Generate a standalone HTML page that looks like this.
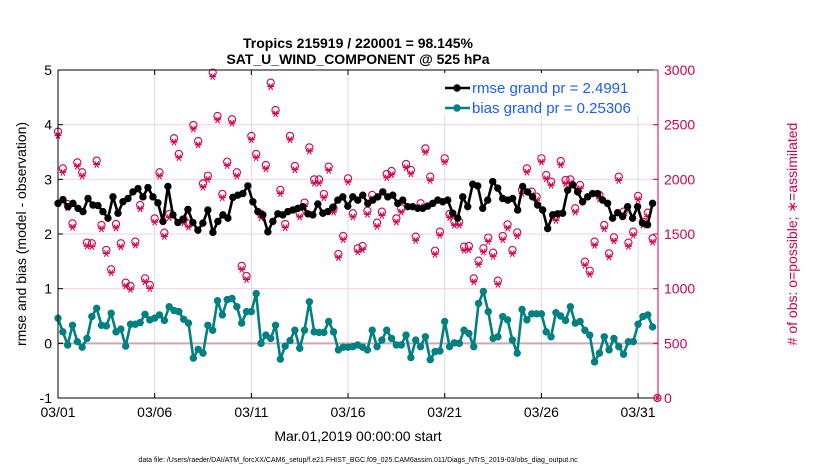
<!DOCTYPE html>
<html><head><meta charset="utf-8"><style>
body{margin:0;background:#fff;}
svg{display:block;font-family:"Liberation Sans",sans-serif;}
</style></head><body>
<svg id="chart" width="830" height="470" xmlns="http://www.w3.org/2000/svg">
<rect x="0" y="0" width="830" height="470" fill="#fff"/>
<text x="358" y="48" text-anchor="middle" font-size="14" font-weight="bold">Tropics 215919 / 220001 = 98.145%</text>
<text x="358" y="64" text-anchor="middle" font-size="14" font-weight="bold">SAT_U_WIND_COMPONENT @ 525 hPa</text>
<g id="grid"></g>
<g id="marks"></g>
<g id="axes"></g>
<text transform="translate(26,234) rotate(-90)" text-anchor="middle" font-size="14">rmse and bias (model - observation)</text>
<text transform="translate(797,234) rotate(-90)" text-anchor="middle" font-size="14" fill="#d6004f"># of obs: o=possible; ∗=assimilated</text>
<text x="358" y="441" text-anchor="middle" font-size="14">Mar.01,2019 00:00:00 start</text>
<text x="358" y="462" text-anchor="middle" font-size="7">data file: /Users/raeder/DAI/ATM_forcXX/CAM6_setup/f.e21.FHIST_BGC.f09_025.CAM6assim.011/Diags_NTrS_2019-03/obs_diag_output.nc</text>
<g id="legend"></g>
</svg>
<script>
const rmseVals=[2.56,2.63,2.50,2.56,2.47,2.41,2.65,2.53,2.52,2.41,2.29,2.68,2.38,2.59,2.65,2.77,2.83,2.68,2.85,2.68,2.57,2.23,2.87,2.35,2.21,2.27,2.45,2.21,2.07,2.20,2.44,2.03,2.23,2.35,2.29,2.67,2.71,2.74,2.88,2.59,2.41,2.35,2.04,
2.23,2.37,2.35,2.41,2.44,2.47,2.50,2.37,2.35,2.55,2.38,2.41,2.49,2.62,2.68,2.51,2.68,2.62,2.71,2.56,2.62,2.68,2.77,2.68,2.71,2.56,2.62,2.50,2.50,2.47,2.47,2.51,2.56,2.62,2.59,2.62,2.38,2.29,2.68,
2.50,2.91,2.88,2.47,2.62,2.96,2.84,2.65,2.62,2.65,2.44,2.87,2.77,2.68,2.53,2.44,2.10,2.35,2.37,2.38,2.80,2.90,2.77,2.59,2.68,2.74,2.74,2.62,2.56,2.29,2.39,2.32,2.50,2.29,2.50,2.20,2.17,2.56];
const biasVals=[0.46,0.21,-0.03,0.33,0.03,-0.07,0.09,0.49,0.64,0.33,0.32,0.55,0.21,0.26,-0.05,0.35,0.35,0.38,0.53,0.43,0.46,0.52,0.42,0.67,0.60,0.58,0.44,0.37,-0.27,-0.11,-0.18,0.33,0.24,0.78,0.52,0.80,0.82,0.67,0.37,0.58,0.58,0.91,0.00,0.15,
0.09,0.33,-0.29,-0.05,0.05,0.24,-0.09,0.24,0.76,0.21,0.20,0.20,0.40,0.21,-0.12,-0.07,-0.07,-0.06,-0.03,-0.07,-0.12,0.24,-0.06,0.06,0.24,0.09,-0.03,-0.03,0.15,-0.26,0.06,-0.06,0.12,-0.30,-0.15,-0.14,0.40,-0.06,0.01,0.00,0.24,
0.18,-0.06,0.73,0.95,0.58,0.09,0.12,0.49,0.43,0.06,-0.18,0.62,0.43,0.54,0.54,0.54,0.21,0.12,0.56,0.50,0.42,0.67,0.37,0.40,0.24,0.15,-0.34,-0.18,0.12,-0.12,0.09,-0.06,-0.20,0.03,0.03,0.35,0.49,0.52,0.30];
const possVals=[2436,2100,1774,1597,2155,2064,1421,1415,2171,1582,1354,1177,1591,1415,1055,1024,1430,1765,1094,1033,1643,2064,1512,1683,2375,2232,1634,1597,2497,2350,1963,2033,2976,2579,1866,2161,2549,2064,1208,1116,2397,2232,1683,2131,
2884,2634,1903,1591,2397,2122,1689,1787,2292,1999,1999,1866,2116,1735,1317,1482,2009,1689,1369,1390,1713,1857,1604,1704,2049,2076,1643,1735,2140,2085,1476,1781,2283,2024,1347,1521,2192,1683,1613,1613,1384,
1390,1094,1256,1369,1467,1329,1073,1482,1588,1354,1515,1903,2100,1887,1841,2192,2039,1979,1659,2167,1994,1999,1735,1948,1247,1164,1430,1857,1582,1323,1470,2024,1704,1421,1521,1848,1613,1695,1460,0];
const assimVals=[2400,2064,1740,1562,2120,2030,1390,1384,2136,1548,1322,1145,1556,1382,1024,994,1398,1730,1062,1002,1608,2030,1478,1650,2340,2198,1600,1563,2460,2315,1928,2000,2940,2544,1832,2126,2514,2030,1176,1084,2362,2198,1650,2096,
2848,2600,1870,1558,2362,2088,1655,1753,2258,1965,1965,1832,2082,1700,1284,1448,1975,1655,1336,1356,1680,1822,1570,1670,2015,2042,1610,1700,2106,2050,1442,1748,2248,1990,1314,1488,2158,1650,1580,1580,1350,
1356,1062,1222,1336,1432,1296,1040,1448,1554,1320,1482,1870,2066,1852,1808,2158,2005,1945,1625,2132,1960,1965,1700,1914,1214,1132,1396,1822,1548,1290,1436,1990,1670,1388,1488,1814,1580,1660,1426,0];
const xTickLabels=["03/01","03/06","03/11","03/16","03/21","03/26","03/31"];
const xTickDays=[0,5,10,15,20,25,30];
const leftTicks=[-1,0,1,2,3,4,5];
const rightTicks=[0,500,1000,1500,2000,2500,3000];

const NS="http://www.w3.org/2000/svg";
const X0=58,X1=658,Y0=70,Y1=398,DMAX=31.03;
const xs=d=>X0+d/DMAX*(X1-X0);
const yl=v=>Y1-(v+1)/6*(Y1-Y0);
const yr=c=>Y1-c/3000*(Y1-Y0);
function mk(tag,attrs,parent){const e=document.createElementNS(NS,tag);for(const k in attrs)e.setAttribute(k,attrs[k]);parent.appendChild(e);return e;}
const grid=document.getElementById('grid'),marks=document.getElementById('marks'),axes=document.getElementById('axes'),legend=document.getElementById('legend');

mk('rect',{x:X0,y:Y0,width:X1-X0,height:Y1-Y0,fill:'#fff'},grid);
xTickDays.forEach(d=>{const l=mk('line',{x1:xs(d),x2:xs(d),y1:Y0,y2:Y1,stroke:'#dcdcdc','stroke-width':1},grid);

});
rightTicks.forEach(c=>{if(c===0||c===3000)return;const l=mk('line',{x1:X0,x2:X1,y1:yr(c),y2:yr(c),stroke:c===500?'#c9a9b4':'#f6d2de','stroke-width':c===500?2:1},grid);

});

// obs counts
function star(x,y,parent){const g=mk('g',{stroke:'#d6004f','stroke-width':1.1},parent);


mk('line',{x1:x-3.5,x2:x+3.5,y1:y,y2:y},g);mk('line',{x1:x-2,x2:x+2,y1:y-3.2,y2:y+3.2},g);mk('line',{x1:x+2,x2:x-2,y1:y-3.2,y2:y+3.2},g);}
possVals.forEach((c,i)=>{const d=i*0.25;const ci=mk('circle',{cx:xs(d),cy:yr(c),r:3.6,fill:'none',stroke:'#d6004f','stroke-width':1.1},marks);

});
assimVals.forEach((c,i)=>{const d=i*0.25;star(xs(d),yr(c),marks);});

function series(vals,color,name,span){const step=span/(vals.length-1);
const pts=vals.map((v,i)=>[xs(i*step),yl(v)]);
const pl=mk('polyline',{points:pts.map(p=>p.join(',')).join(' '),fill:'none',stroke:color,'stroke-width':2.6,'stroke-linejoin':'round'},marks);


pts.forEach(p=>{const c=mk('circle',{cx:p[0],cy:p[1],r:3.7,fill:color},marks);

});}
series(rmseVals,'#000','rmse',30.75);
series(biasVals,'#008080','bias',30.75);

// axes
mk('line',{x1:X0,x2:X1,y1:Y0,y2:Y0,stroke:'#000'},axes);
mk('line',{x1:X0,x2:X1,y1:Y1,y2:Y1,stroke:'#000'},axes);
mk('line',{x1:X0,x2:X0,y1:Y0,y2:Y1,stroke:'#000'},axes);
mk('line',{x1:X1,x2:X1,y1:Y0,y2:Y1,stroke:'#d6004f'},axes);
leftTicks.forEach(v=>{mk('line',{x1:X0,x2:X0+5,y1:yl(v),y2:yl(v),stroke:'#000'},axes);
const t=mk('text',{x:X0-6,y:yl(v)+5,'text-anchor':'end','font-size':14},axes);t.textContent=v;

});
rightTicks.forEach(c=>{mk('line',{x1:X1-5,x2:X1,y1:yr(c),y2:yr(c),stroke:'#d6004f'},axes);
const t=mk('text',{x:X1+6,y:yr(c)+5,'font-size':14,fill:'#d6004f'},axes);t.textContent=c;

});
xTickDays.forEach((d,i)=>{mk('line',{x1:xs(d),x2:xs(d),y1:Y1,y2:Y1-5,stroke:'#000'},axes);mk('line',{x1:xs(d),x2:xs(d),y1:Y0,y2:Y0+5,stroke:'#000'},axes);
const t=mk('text',{x:xs(d),y:Y1+19,'text-anchor':'middle','font-size':14},axes);t.textContent=xTickLabels[i];

});

// legend
mk('rect',{x:441,y:73,width:215,height:42,fill:'#fff'},legend);
[['rmse grand pr = 2.4991','#000',88],['bias grand pr = 0.25306','#008080',108]].forEach(([lab,col,y])=>{
const g=mk('g',{},legend);


mk('line',{x1:445,x2:470,y1:y,y2:y,stroke:col,'stroke-width':2.6},g);
mk('circle',{cx:457,cy:y,r:3.7,fill:col},g);
const t=mk('text',{x:472,y:y+5,'font-size':15,fill:'#1a5cff'},g);t.textContent=lab;});
</script>
</body></html>
